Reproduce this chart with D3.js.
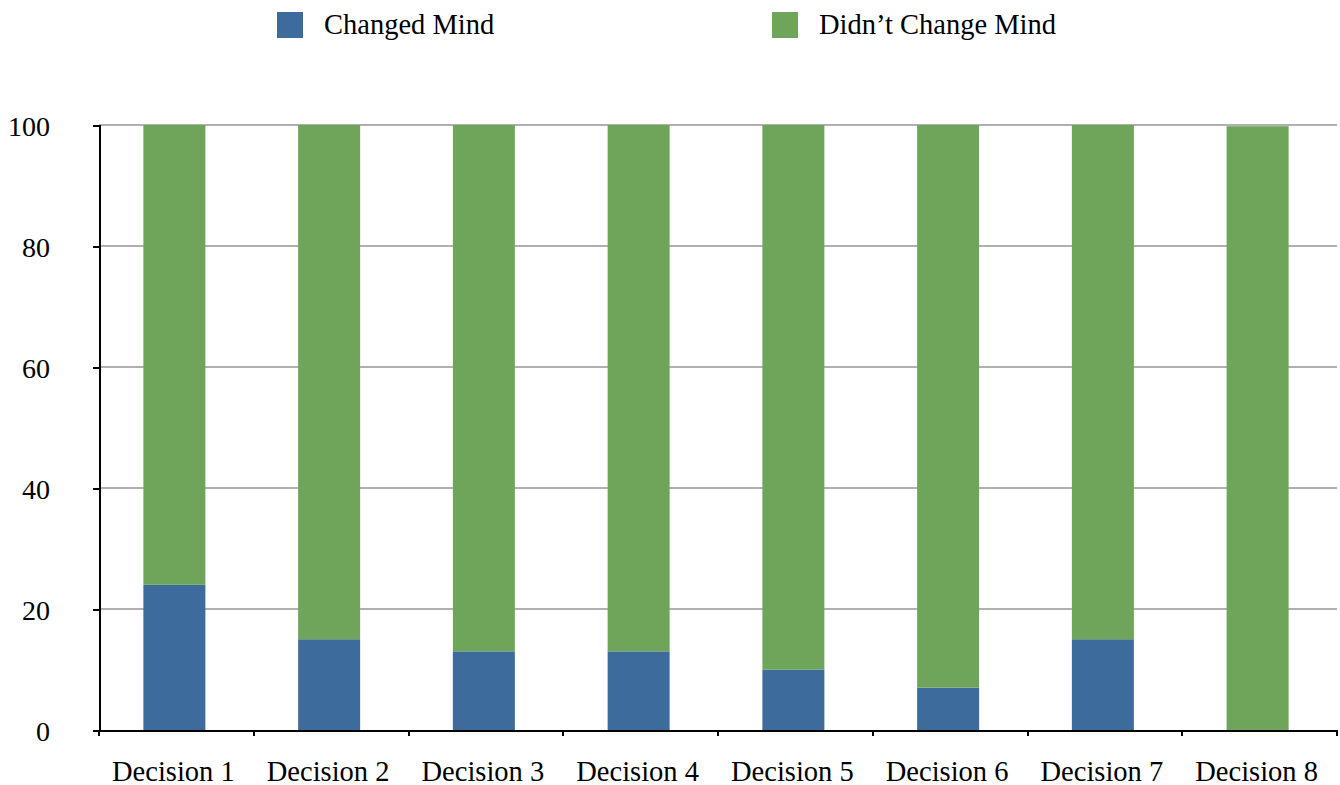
<!DOCTYPE html>
<head>
<meta charset="utf-8">
<title>Changed Mind</title>
<script src="https://cdn.jsdelivr.net/npm/d3@7/dist/d3.min.js"></script>
<style>
body { margin: 0; background: #fff; }
text { font-family: "Liberation Serif", "Times New Roman", serif; fill: #000; }
.grid line { stroke: #b0b0b0; stroke-width: 2; shape-rendering: crispEdges; }
.axis path, .axis line { stroke: #000; stroke-width: 2; fill: none; shape-rendering: crispEdges; }
</style>
</head>
<body>
<script>
// data
var decisions = ["Decision 1", "Decision 2", "Decision 3", "Decision 4",
                 "Decision 5", "Decision 6", "Decision 7", "Decision 8"];
var changed = [24, 15, 13, 13, 10, 7, 15, 0];
var notChanged = [76, 85, 87, 87, 90, 93, 85, 99.8];
var yTicks = [0, 20, 40, 60, 80, 100];
var seriesNames = ["Changed Mind", "Didn\u2019t Change Mind"];
var colors = ["#3d6b9c", "#6fa55a"];

var width = 1340, height = 785;
var plotLeft = 99, plotRight = 1337, plotTop = 125, plotBottom = 730;

var svg = d3.select("body").append("svg")
    .attr("width", width)
    .attr("height", height);

var x = d3.scaleBand().domain(decisions).range([plotLeft, plotRight]);
var y = d3.scaleLinear().domain([0, 100]).range([plotBottom, plotTop]);
var barW = 62;

// gridlines
svg.append("g").attr("class", "grid")
  .selectAll("line").data(yTicks.filter(function(t) { return t > 0; }))
  .enter().append("line")
    .attr("x1", plotLeft).attr("x2", plotRight)
    .attr("y1", function(d) { return y(d); })
    .attr("y2", function(d) { return y(d); });

// stacked bars
var rows = decisions.map(function(d, i) {
    return { name: d, changed: changed[i], notChanged: notChanged[i] };
});
var stack = d3.stack().keys(["changed", "notChanged"])(rows);

svg.append("g").selectAll("g").data(stack)
  .enter().append("g")
    .attr("fill", function(d, i) { return colors[i]; })
  .selectAll("rect").data(function(d) { return d; })
  .enter().append("rect")
    .attr("x", function(d) { return x(d.data.name) + (x.bandwidth() - barW) / 2 - 2; })
    .attr("width", barW)
    .attr("y", function(d) { return y(d[1]); })
    .attr("height", function(d) { return y(d[0]) - y(d[1]); });

// y axis
var yAxis = svg.append("g").attr("class", "axis")
    .attr("transform", "translate(" + plotLeft + ",0)")
    .call(d3.axisLeft(y).tickValues(yTicks).tickSize(6).tickSizeOuter(6));
yAxis.selectAll("text")
    .attr("x", -49)
    .attr("dy", "0.36em")
    .style("font-size", "28px");

// x axis
var xAxis = svg.append("g").attr("class", "axis")
    .attr("transform", "translate(0," + plotBottom + ")")
    .call(d3.axisBottom(x).tickSize(0).tickSizeOuter(0));
xAxis.selectAll("text")
    .attr("y", 51)
    .attr("dy", 0)
    .attr("dx", -3)
    .style("font-size", "28.5px");
// boundary ticks between categories
xAxis.selectAll(".sep").data(decisions.concat(["end"]))
  .enter().append("line")
    .attr("class", "sep")
    .attr("x1", function(d, i) { return plotLeft + i * x.bandwidth(); })
    .attr("x2", function(d, i) { return plotLeft + i * x.bandwidth(); })
    .attr("y1", 0).attr("y2", 6);

// legend
var legendX = [277, 772];
var legend = svg.append("g").selectAll("g").data(seriesNames)
  .enter().append("g")
    .attr("transform", function(d, i) { return "translate(" + legendX[i] + ",12)"; });
legend.append("rect")
    .attr("width", 26).attr("height", 26)
    .attr("fill", function(d, i) { return colors[i]; });
legend.append("text")
    .attr("x", 47).attr("y", 22)
    .style("font-size", "28.5px")
    .text(function(d) { return d; });
</script>
</body>
